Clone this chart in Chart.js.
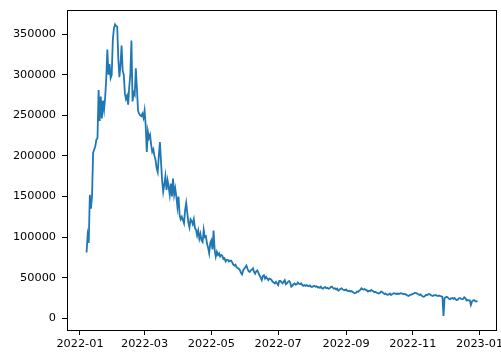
<!DOCTYPE html>
<html>
<head>
<meta charset="utf-8">
<script src="https://cdn.jsdelivr.net/npm/chart.js@4.4.1/dist/chart.umd.min.js"></script>
<style>
  html, body { margin: 0; padding: 0; background: #fff; }
  #wrap { width: 501px; height: 354px; }
</style>
</head>
<body>
<div id="wrap"><canvas id="chart" width="501" height="354"></canvas></div>
<script>
// daily series, first value is 2022-01-07 (day 6 counted from 2022-01-01)
const firstDay = 6;

const dailyValues = [
  81000, 102000, 93000, 152000, 135000, 150000, 204000, 208000, 212000, 220000,
  222000, 281000, 243000, 273000, 246000, 268000, 257000, 272000, 295000, 331000,
  300000, 313000, 296000, 300000, 343000, 357000, 362000, 360000, 359000, 320000,
  297000, 312000, 336000, 305000, 300000, 277000, 270000, 274000, 263000, 285000,
  300000, 342000, 267000, 278000, 275000, 308000, 283000, 256000, 252000, 250000,
  249000, 252000, 247000, 256000, 238000, 205000, 230000, 222000, 226000, 214000,
  205000, 208000, 200000, 195000, 185000, 180000, 200000, 217000, 193000, 170000,
  156000, 165000, 175000, 158000, 170000, 162000, 152000, 166000, 150000, 172000,
  152000, 160000, 150000, 137000, 150000, 127000, 122000, 125000, 121000, 117000,
  133000, 142000, 130000, 118000, 112000, 122000, 120000, 116000, 122000, 111000,
  109000, 102000, 108000, 98000, 104000, 96000, 94000, 109000, 100000, 101000,
  92000, 87000, 80000, 93000, 96000, 85000, 108000, 84000, 76000, 82000,
  78000, 80000, 76000, 78000, 77000, 73000, 74000, 70000, 72000, 72000,
  70000, 71000, 71000, 69000, 66000, 65000, 66000, 63000, 62000, 61000,
  59500, 56000, 54000, 59000, 61000, 63000, 65000, 61000, 58000, 57000,
  59000, 60000, 61500, 57000, 55000, 58000, 59000, 56000, 53000, 50000,
  47000, 52000, 53000, 49000, 51000, 49000, 47000, 49000, 48500, 47000,
  45000, 44000, 43000, 45000, 43000, 41000, 46000, 46000, 44500, 43000,
  45000, 47000, 42000, 43000, 45000, 46000, 44000, 39000, 40000, 42000,
  43000, 41500, 42000, 44000, 42500, 42000, 43000, 41000, 40000, 41000,
  40000, 41000, 40000, 39500, 40500, 39000, 38500, 39500, 40000, 39000,
  39500, 38000, 38500, 37500, 39000, 37000, 36500, 38000, 38500, 37000,
  37500, 36500, 37000, 38500, 39000, 37500, 36500, 37000, 35500, 36500,
  34000, 35000, 36500, 37000, 35500, 35000, 34500, 35500, 34000, 33500,
  34000, 33000, 33500, 32500, 31500, 30800, 31500, 33000, 32500, 34000,
  35000, 37000, 36000, 35500, 36000, 35000, 34500, 33000, 34000, 33500,
  35000, 34000, 33000, 32000, 32500, 31500, 31000, 30500, 31500, 33000,
  32500, 31000, 30000, 30500, 29500, 29000, 29500, 30500, 28700, 29500,
  30500, 31000, 30500, 30000, 30500, 30000, 30500, 31000, 30500, 30000,
  29500, 30000, 29000, 28000, 27500, 28500, 28700, 29500, 30000, 30500,
  31500, 31000, 30500, 29500, 28700, 29500, 28000, 27000, 26600, 27500,
  28700, 28700, 29500, 30000, 29000, 28000, 27500, 28500, 28000, 28700,
  28000, 27500, 28000, 27500, 27000, 26500, 3000, 25000, 26000, 26600,
  25500, 24000, 23400, 24500, 25000, 24000, 25000, 23500, 22500, 23000,
  24500, 25000, 24000, 23400, 24000, 26000, 25000, 22000, 22500, 22000,
  22000, 16400, 20700, 22000, 22500, 21000, 20700, 21500
];

// x ticks: first of every other month, counted in days from 2022-01-01
const monthTickDays = [0, 59, 120, 181, 243, 304, 365];
const monthTickLabels = ['2022-01', '2022-03', '2022-05', '2022-07', '2022-09', '2022-11', '2023-01'];

const yTickValues = [0, 50000, 100000, 150000, 200000, 250000, 300000, 350000];

const points = dailyValues.map((v, i) => ({ x: firstDay + i, y: v }));

// draws the full box around the plot, like matplotlib spines
const frame = {
  id: 'frame',
  afterDraw(chart) {
    const { ctx, chartArea: a } = chart;
    ctx.save();
    ctx.strokeStyle = '#000';
    ctx.lineWidth = 1;
    ctx.strokeRect(Math.round(a.left) + 0.5, Math.round(a.top) + 0.5,
      Math.round(a.right - a.left) - 1, Math.round(a.bottom - a.top));
    ctx.restore();
  }
};

const tickFont = { family: 'DejaVu Sans', size: 11.3 };

new Chart(document.getElementById('chart'), {
  type: 'line',
  data: {
    datasets: [{
      data: points,
      borderColor: '#1f77b4',
      borderWidth: 1.8,
      pointRadius: 0,
      tension: 0,
      fill: false
    }]
  },
  options: {
    responsive: false,
    animation: false,
    events: [],
    layout: { padding: { top: 10, right: 4, left: 0, bottom: 0 } },
    plugins: { legend: { display: false }, tooltip: { enabled: false } },
    scales: {
      x: {
        type: 'linear',
        min: -11.85,
        max: 380.85,
        border: { display: false },
        grid: { drawOnChartArea: false, drawTicks: true, tickLength: 5, tickColor: '#000' },
        ticks: {
          color: '#000',
          font: tickFont,
          padding: 2,
          maxRotation: 0,
          autoSkip: false,
          callback: (v, i) => monthTickLabels[i]
        },
        afterBuildTicks: s => { s.ticks = monthTickDays.map(v => ({ value: v })); },
        afterFit: s => { s.height = 24; s.paddingLeft = 0; s.paddingRight = 0; }
      },
      y: {
        min: -14400,
        max: 379700,
        border: { display: false },
        grid: { drawOnChartArea: false, drawTicks: true, tickLength: 5, tickColor: '#000' },
        ticks: { color: '#000', font: tickFont, padding: 6, callback: v => String(v) },
        afterBuildTicks: s => { s.ticks = yTickValues.map(v => ({ value: v })); },
        afterFit: s => { s.width = 67; s.paddingTop = 0; s.paddingBottom = 0; }
      }
    }
  },
  plugins: [frame]
});
</script>
</body>
</html>
